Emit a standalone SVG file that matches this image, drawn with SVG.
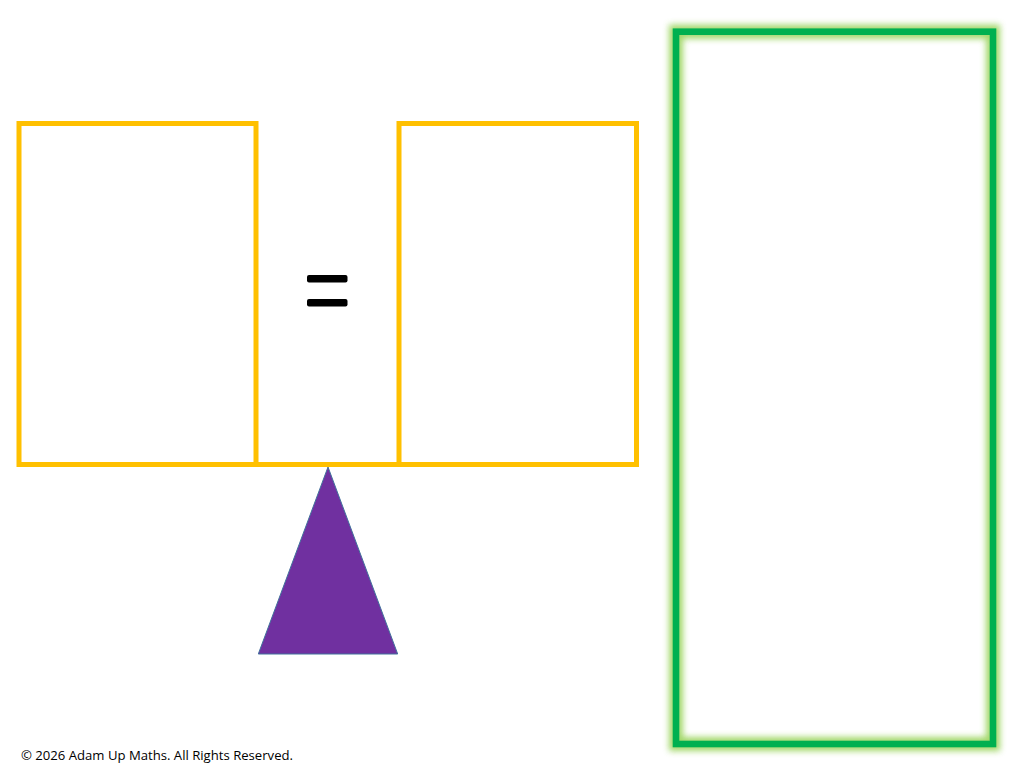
<svg xmlns="http://www.w3.org/2000/svg" width="1013" height="774" viewBox="0 0 1013 774">
<defs>
<style>
.pan{fill:none;stroke:#FFC000;stroke-width:5}
.eq{fill:#000}
</style>
<filter id="glow" x="-10%" y="-10%" width="120%" height="120%">
<feGaussianBlur stdDeviation="3"/>
</filter>
</defs>
<rect width="1013" height="774" fill="#fff"/>
<g id="left-pan">
<rect class="pan" x="19" y="123.5" width="237" height="341"/>
</g>
<g id="right-pan">
<rect class="pan" x="399" y="123.5" width="237.5" height="341"/>
</g>
<g id="connectors">
<line x1="256" y1="464.5" x2="399" y2="464.5" stroke="#FFC000" stroke-width="5"/>
</g>
<g id="equals">
<rect class="eq" x="307" y="275" width="40.5" height="7.5" rx="2"/>
<rect class="eq" x="307" y="299" width="40.5" height="7.5" rx="2"/>
</g>
<g id="fulcrum">
<polygon points="328,467 397.7,654 258.3,654" fill="#7030A0" stroke="#41719C" stroke-width="1"/>
</g>
<g id="answer-box">
<rect x="676" y="31.7" width="317" height="712.3" fill="none" stroke="#92D050" stroke-width="14" opacity="0.85" filter="url(#glow)"/>
<rect x="676" y="31.7" width="317" height="712.3" fill="none" stroke="#00B050" stroke-width="6.6"/>
</g>
<text x="21" y="760" font-family="'Open Sans', 'Liberation Sans', Arial, sans-serif" font-size="13" fill="#000" textLength="272" lengthAdjust="spacingAndGlyphs">© 2026 Adam Up Maths. All Rights Reserved.</text>
</svg>
